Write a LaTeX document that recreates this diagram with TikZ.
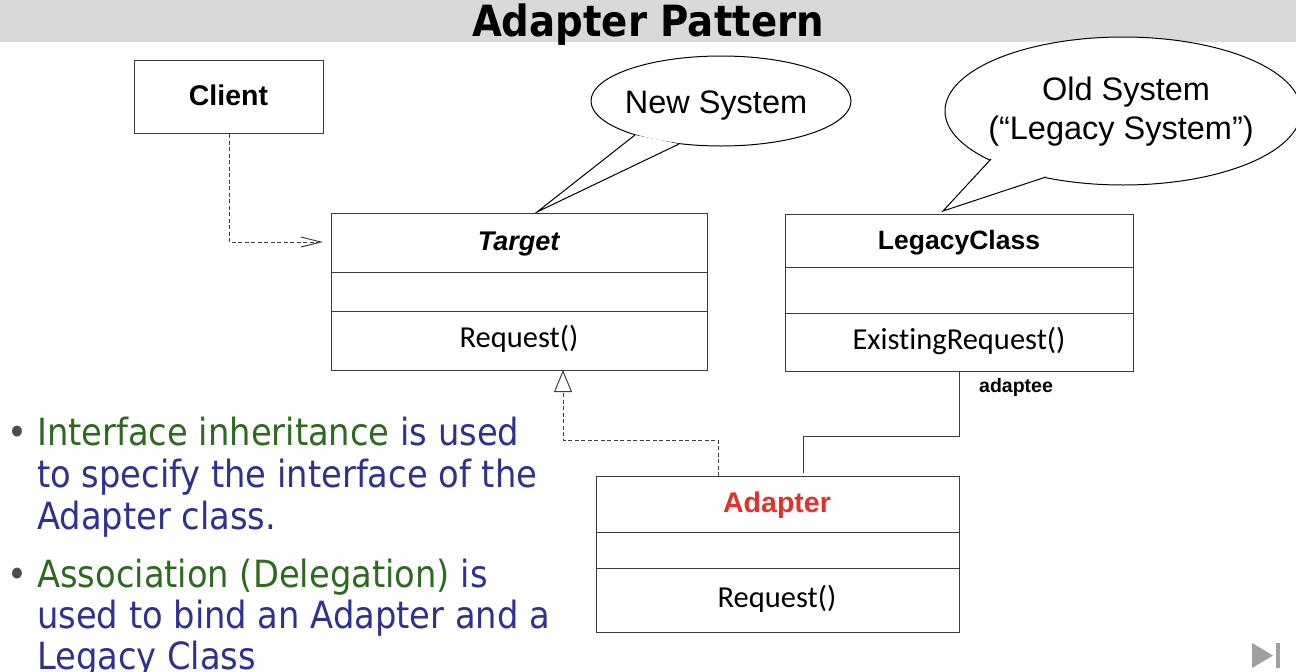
\documentclass[tikz,border=0pt]{standalone}
\usepackage{fontspec}
\setmainfont{Liberation Sans}
\newfontfamily\calfont[Ligatures={NoCommon}]{Carlito}
\newfontfamily\tahfont{DejaVu Sans Condensed}
\usetikzlibrary{shapes.geometric,arrows.meta,calc}
\definecolor{titlegray}{RGB}{217,217,217}
\definecolor{bgreen}{RGB}{45,105,30}
\definecolor{bblue}{RGB}{46,49,146}
\definecolor{adred}{RGB}{232,48,42}
\definecolor{linegray}{RGB}{60,60,60}
\definecolor{icongray}{RGB}{160,160,160}
\begin{document}
\begin{tikzpicture}[x=1pt,y=-1pt,
  classbox/.style={draw=linegray,line width=1pt,fill=white,inner sep=0pt,anchor=north west},
  divider/.style={draw=linegray,line width=1pt},
  clsname/.style={font=\fontsize{26.5}{30}\selectfont\bfseries,anchor=base,inner sep=0pt},
  optext/.style={font=\calfont\fontsize{30.5}{34}\selectfont,anchor=base,inner sep=0pt},
  bubble/.style={ellipse,draw=black,line width=1pt,fill=white,inner sep=0pt},
  bubtext/.style={font=\fontsize{32.5}{36}\selectfont,anchor=base,inner sep=0pt},
  depline/.style={draw=black!75,line width=1pt,dash pattern=on 4pt off 2.5pt},
  assocline/.style={draw=linegray,line width=1pt},
  bullettext/.style={font=\tahfont\fontsize{37.5}{41.5}\selectfont,anchor=base west,inner sep=0pt,text=bblue},
  bulletdot/.style={font=\tahfont\fontsize{37.5}{41.5}\selectfont,anchor=base west,inner sep=0pt,text=black!70}
]
\useasboundingbox (0,0) rectangle (1296,672);
% title bar
\fill[titlegray] (0,0) rectangle (1296,42);
\node[font=\tahfont\fontsize{43}{46}\selectfont\bfseries,anchor=base,inner sep=0pt] (title) at (648,36) {Adapter Pattern};

% speech bubbles
\node[bubble,minimum width=260pt,minimum height=90pt] (newsys) at (721,101) {};
\fill[white] (635,135) -- (537,212) -- (679,144) -- cycle;
\draw[line width=1pt] (635,135) -- (537,212) -- (679,144);
\node[bubtext] (newtxt) at (716,113) {New System};

\node[bubble,minimum width=356pt,minimum height=148pt] (oldsys) at (1123,111) {};
\fill[white] (991,159) -- (943,211) -- (1046,177) -- cycle;
\draw[line width=1pt] (991,159) -- (943,211) -- (1046,177);
\node[bubtext] (oldtxt1) at (1126,100) {Old System};
\node[bubtext] (oldtxt2) at (1121,139) {(“Legacy System”)};

% Client
\node[classbox,minimum width=189pt,minimum height=73pt] (client) at (134,60) {};
\node[clsname,font=\fontsize{28.5}{30}\selectfont\bfseries] (clientname) at (228.5,105) {Client};

% Target
\node[classbox,minimum width=376pt,minimum height=157pt] (target) at (331,213) {};
\draw[divider] ($(target.north west)+(0,59)$) -- ($(target.north east)+(0,59)$);
\draw[divider] ($(target.north west)+(0,98)$) -- ($(target.north east)+(0,98)$);
\node[clsname,font=\fontsize{27}{30}\selectfont\bfseries] (targetname) at (519,250) {\textit{Target}};
\node[optext] (targetop) at (519,347) {Request()};

% LegacyClass
\node[classbox,minimum width=348pt,minimum height=157pt] (legacy) at (785,214) {};
\draw[divider] ($(legacy.north west)+(0,53)$) -- ($(legacy.north east)+(0,53)$);
\draw[divider] ($(legacy.north west)+(0,99)$) -- ($(legacy.north east)+(0,99)$);
\node[clsname] (legacyname) at (959,249) {LegacyClass};
\node[optext] (legacyop) at (959,349) {ExistingRequest()};

% Adapter
\node[classbox,minimum width=363pt,minimum height=156pt] (adapter) at (596,476) {};
\draw[divider] ($(adapter.north west)+(0,56)$) -- ($(adapter.north east)+(0,56)$);
\draw[divider] ($(adapter.north west)+(0,92)$) -- ($(adapter.north east)+(0,92)$);
\node[clsname,font=\fontsize{28.5}{30}\selectfont\bfseries,text=adred] (adaptername) at (777,512) {Adapter};
\node[optext] (adapterop) at (777,607) {Request()};

% connectors
\coordinate (targetin) at (331,242);
\draw[depline,-{Straight Barb[length=20pt,width=10pt,line width=1pt]},shorten >=8pt] (client.south) |- (targetin);

\coordinate (gtip) at (563,370);
\coordinate (gstart) at (718,476);
\draw[depline,-{Triangle[open,length=22pt,width=18pt,line width=1pt,fill=white]}] (gstart) -- (718,440) -| (gtip);

\coordinate (assocend) at (803,473);
\draw[assocline] (legacy.south) -- ++(0,64) -| (assocend);
\node[font=\fontsize{19.5}{22}\selectfont\bfseries,anchor=base,inner sep=0pt] (adaptee) at (1016,392) {adaptee};

% bullets
\node[bulletdot] (dot1) at (7,445) {•};
\node[bullettext] (b1l1) at (37,445) {\textcolor{bgreen}{Interface inheritance} is used};
\node[bullettext] (b1l2) at (37,487) {to specify the interface of the};
\node[bullettext] (b1l3) at (37,529) {Adapter class.};
\node[bulletdot] (dot2) at (7,587) {•};
\node[bullettext] (b2l1) at (37,587) {\textcolor{bgreen}{Association (Delegation)} is};
\node[bullettext] (b2l2) at (37,628) {used to bind an Adapter and a};
\node[bullettext] (b2l3) at (37,669) {Legacy Class};

% next icon
\fill[icongray] (1252,643) -- (1252,668) -- (1273,655.5) -- cycle;
\fill[icongray] (1276,643) rectangle (1280,668);
\end{tikzpicture}
\end{document}
